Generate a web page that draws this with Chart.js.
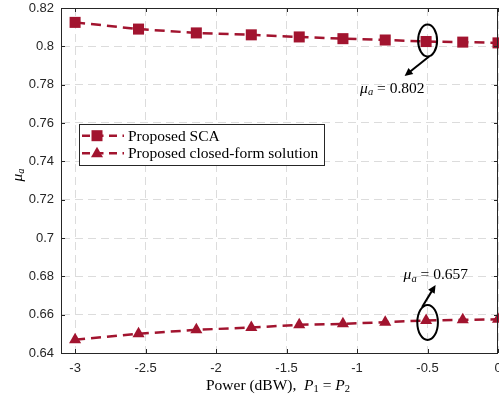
<!DOCTYPE html>
<html><head><meta charset="utf-8">
<script src="https://cdn.jsdelivr.net/npm/chart.js@4/dist/chart.umd.min.js"></script>
<style>html,body{margin:0;padding:0;background:#fff;}#wrap{width:499px;height:401px;position:relative;}</style>
</head><body><div id="wrap"><canvas id="c" width="499" height="401"></canvas></div>
<script>
const powerDbw = [-3, -2.55, -2.14, -1.75, -1.41, -1.10, -0.80, -0.51, -0.25, 0];
const muScaSeries = [0.8125, 0.8090, 0.8070, 0.8060, 0.8049, 0.8040, 0.8033, 0.8025, 0.8022, 0.8018];
const muClosedSeries = [0.6469, 0.6500, 0.6521, 0.6533, 0.6547, 0.6552, 0.6561, 0.6570, 0.6573, 0.6576];
const seriesLabels = ['Proposed SCA', 'Proposed closed-form solution'];
const xTickValues = [-3, -2.5, -2, -1.5, -1, -0.5, 0];
const yTickValues = [0.64, 0.66, 0.68, 0.70, 0.72, 0.74, 0.76, 0.78, 0.80, 0.82];
const annotatedIndex = 7;
const annotatedValues = ['0.802', '0.657'];

const RED = '#A2142F';
const AX = '#262626';
const SERIF = '"Liberation Serif", "DejaVu Serif", serif';
const SANS = '"Liberation Sans", Arial, sans-serif';

function fmt(v){ return String(Math.round(v*1000)/1000); }

function drawRich(ctx, segs, x, y, align){
  let total = 0;
  segs.forEach(s => { ctx.font = s.f; s.w = ctx.measureText(s.t).width; total += s.w; });
  let cx = align === 'center' ? x - total/2 : (align === 'right' ? x - total : x);
  ctx.textAlign = 'left'; ctx.textBaseline = 'alphabetic';
  segs.forEach(s => { ctx.font = s.f; ctx.fillText(s.t, cx, y + (s.dy||0)); cx += s.w; });
}
function muSegs(val){
  return [
    {t:'\u03BC', f:'italic 15.5px '+SERIF},
    {t:'a', f:'italic 10.5px '+SERIF, dy:2.5},
    {t:' = '+val, f:'15.5px '+SERIF}
  ];
}
function arrow(ctx, x1, y1, x2, y2){
  const a = Math.atan2(y2-y1, x2-x1), L = 8, W = 3.8;
  ctx.beginPath(); ctx.moveTo(x1,y1);
  ctx.lineTo(x2 - Math.cos(a)*L*0.8, y2 - Math.sin(a)*L*0.8); ctx.stroke();
  ctx.beginPath();
  ctx.moveTo(x2, y2);
  ctx.lineTo(x2 - Math.cos(a)*L - Math.sin(a)*W, y2 - Math.sin(a)*L + Math.cos(a)*W);
  ctx.lineTo(x2 - Math.cos(a)*L + Math.sin(a)*W, y2 - Math.sin(a)*L - Math.cos(a)*W);
  ctx.closePath(); ctx.fill();
}

const decor = {
  id: 'decor',
  afterDatasetsDraw(chart){
    const ctx = chart.ctx, ca = chart.chartArea;
    const xs = chart.scales.x, ys = chart.scales.y;
    ctx.save();
    // axes box + inner ticks
    ctx.strokeStyle = AX; ctx.lineWidth = 1;
    ctx.strokeRect(Math.round(ca.left)+0.5, Math.round(ca.top)+0.5, Math.round(ca.right-ca.left)-1, Math.round(ca.bottom-ca.top));
    ctx.beginPath();
    xTickValues.forEach(v => { const px = Math.round(xs.getPixelForValue(v))+0.5;
      ctx.moveTo(px, ca.bottom); ctx.lineTo(px, ca.bottom-4);
      ctx.moveTo(px, ca.top); ctx.lineTo(px, ca.top+4); });
    yTickValues.forEach(v => { const py = Math.round(ys.getPixelForValue(v))+0.5;
      ctx.moveTo(ca.left, py); ctx.lineTo(ca.left+4, py);
      ctx.moveTo(ca.right, py); ctx.lineTo(ca.right-4, py); });
    ctx.stroke();

    // legend
    const lx = 79.5, ly = 124.5, lw = 245, lh = 41;
    ctx.fillStyle = '#fff'; ctx.fillRect(lx, ly, lw, lh);
    ctx.strokeStyle = AX; ctx.lineWidth = 1; ctx.strokeRect(lx, ly, lw, lh);
    chart.data.datasets.forEach((ds, i) => {
      const y = 135.7 + i*17.6;
      ctx.strokeStyle = ds.borderColor; ctx.lineWidth = 2.5; ctx.setLineDash([8,5.5]);
      ctx.beginPath(); ctx.moveTo(82, y); ctx.lineTo(124, y); ctx.stroke();
      ctx.setLineDash([]);
      ctx.fillStyle = ds.backgroundColor;
      if (ds.pointStyle === 'rect') { ctx.fillRect(91.5, y-5.5, 11, 11); }
      else { ctx.beginPath(); ctx.moveTo(97, y-6.5); ctx.lineTo(103, y+4); ctx.lineTo(91, y+4); ctx.closePath(); ctx.fill(); }
      ctx.fillStyle = '#000'; ctx.font = '15.5px '+SERIF; ctx.textAlign='left'; ctx.textBaseline='middle';
      ctx.fillText(ds.label, 128, y+1);
    });

    // annotations
    ctx.strokeStyle = '#000'; ctx.fillStyle = '#000'; ctx.lineWidth = 2;
    const p1x = xs.getPixelForValue(powerDbw[annotatedIndex]), p1y = ys.getPixelForValue(muScaSeries[annotatedIndex]);
    ctx.beginPath(); ctx.ellipse(p1x+1.5, p1y-1, 9.5, 16, 0, 0, Math.PI*2); ctx.stroke();
    arrow(ctx, p1x+3, p1y+15, p1x-21.5, p1y+34.5);
    drawRich(ctx, muSegs(annotatedValues[0]), p1x-66, p1y+51, 'left');
    const p2x = xs.getPixelForValue(powerDbw[annotatedIndex]), p2y = ys.getPixelForValue(muClosedSeries[annotatedIndex]);
    ctx.beginPath(); ctx.ellipse(p2x+1.5, p2y+2, 10.3, 17.5, 0, 0, Math.PI*2); ctx.stroke();
    arrow(ctx, p2x-4, p2y-13.5, p2x+9.5, p2y-35.5);
    drawRich(ctx, muSegs(annotatedValues[1]), p2x-22.5, p2y-41, 'left');

    // axis titles
    ctx.fillStyle = '#000';
    drawRich(ctx, [
      {t:'Power (dBW),  ', f:'15.5px '+SERIF},
      {t:'P', f:'italic 15.5px '+SERIF},
      {t:'1', f:'10.5px '+SERIF, dy:2.5},
      {t:' = ', f:'15.5px '+SERIF},
      {t:'P', f:'italic 15.5px '+SERIF},
      {t:'2', f:'10.5px '+SERIF, dy:2.5}
    ], (ca.left+ca.right)/2 - 1.5, 389.5, 'center');
    ctx.save(); ctx.translate(21.5, 175); ctx.rotate(-Math.PI/2);
    drawRich(ctx, [{t:'\u03BC', f:'italic 15.5px '+SERIF},{t:'a', f:'italic 10.5px '+SERIF, dy:2.5}], 0, 0, 'center');
    ctx.restore();
    ctx.restore();
  }
};

function noPad(s){ s.paddingLeft = 0; s.paddingRight = 0; s.paddingTop = 0; s.paddingBottom = 0; }
const gridOpts = { color: '#dcdcdc', lineWidth: 1, drawTicks: false, borderDash: [8,5] };
const borderOpts = { display: true, color: 'rgba(0,0,0,0)', width: 1, dash: [8,5] };
new Chart(document.getElementById('c'), {
  type: 'line',
  data: {
    datasets: [
      { label: seriesLabels[0], data: powerDbw.map((x,i)=>({x, y: muScaSeries[i]})),
        borderColor: RED, backgroundColor: RED, borderWidth: 2.5, borderDash: [10,6],
        pointStyle: 'rect', pointRadius: 7.8, pointBorderWidth: 0, clip: false, tension: 0 },
      { label: seriesLabels[1], data: powerDbw.map((x,i)=>({x, y: muClosedSeries[i]})),
        borderColor: RED, backgroundColor: RED, borderWidth: 2.5, borderDash: [10,6],
        pointStyle: 'triangle', pointRadius: 7, pointBorderWidth: 0, clip: false, tension: 0 }
    ]
  },
  options: {
    responsive: false, animation: false, devicePixelRatio: 1,
    layout: { autoPadding: false, padding: { left: 0, right: 1, top: 8, bottom: 0 } },
    plugins: { legend: { display: false }, tooltip: { enabled: false } },
    scales: {
      x: { type: 'linear', min: -3.1, max: 0,
        afterBuildTicks: s => { s.ticks = xTickValues.map(v => ({value: v})); },
        afterFit: s => { s.height = 48; noPad(s); },
        grid: gridOpts, border: borderOpts,
        ticks: { padding: 8, color: AX, font: { family: SANS, size: 13 }, maxRotation: 0, autoSkip: false, callback: v => fmt(v) } },
      y: { type: 'linear', min: 0.64, max: 0.82,
        afterBuildTicks: s => { s.ticks = yTickValues.map(v => ({value: v})); },
        afterFit: s => { s.width = 61; noPad(s); },
        grid: gridOpts, border: borderOpts,
        ticks: { padding: 7, color: AX, font: { family: SANS, size: 13 }, autoSkip: false, callback: v => fmt(v) } }
    }
  },
  plugins: [decor]
});
</script></body></html>
